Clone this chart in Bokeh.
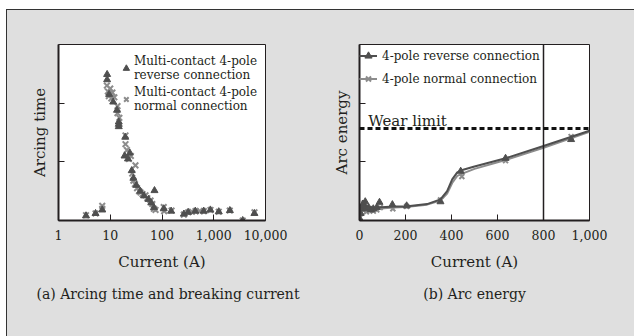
from bokeh.plotting import figure
from bokeh.models import FixedTicker, Span, Label, Legend, LegendItem, Range1d, NumeralTickFormatter, Title
from bokeh.layouts import row
from bokeh.embed import file_html
from bokeh.resources import INLINE

# ---- data: (a) arcing time vs breaking current (log x) ----
rev_a_x = [3.4, 5.2, 7.0, 8.7, 8.7, 9.5, 11.4, 13.5, 14.6, 14.6, 14.6, 19.5, 18.9, 23.9, 22, 26, 28, 32, 38, 45,
           55, 62, 71.6, 70, 108, 150, 265, 320, 440, 640, 860, 1250, 2050, 3630, 6100]
rev_a_y = [0.08, 0.12, 0.18, 2.49, 2.40, 2.15, 2.02, 1.88, 1.68, 1.64, 1.60, 1.42, 1.10, 1.15, 1.05, 0.85, 0.72, 0.6, 0.5, 0.42,
           0.36, 0.3, 0.51, 0.22, 0.2, 0.16, 0.11, 0.14, 0.16, 0.16, 0.18, 0.15, 0.17, 0.0, 0.12]
nor_a_x = [3.4, 5.2, 7.0, 7.0, 8.6, 9.0, 9.4, 10, 10.5, 11, 12, 13.8, 13.8, 15, 19.7, 19.7, 21, 23, 25, 26.6, 28, 30,
           30.7, 33, 36, 38.4, 42, 48, 52, 60, 65, 69.6, 75, 108, 110, 153, 264, 321, 380, 444, 540, 643, 865, 1250,
           2040, 3630, 6120]
nor_a_y = [0.09, 0.12, 0.2, 0.25, 2.3, 2.2, 2.12, 2.25, 2.08, 2.18, 2.1, 1.95, 1.83, 1.75, 1.45, 1.3, 1.2, 1.05, 1.1, 0.8,
           0.68, 0.62, 0.94, 0.55, 0.5, 0.48, 0.45, 0.43, 0.38, 0.34, 0.28, 0.2, 0.18, 0.23, 0.16, 0.17, 0.1, 0.14,
           0.15, 0.16, 0.16, 0.16, 0.18, 0.15, 0.17, 0.0, 0.14]
a_ticks = [1, 10, 100, 1000, 10000]

# ---- data: (b) arc energy vs current ----
rev_b_x = [2, 5, 10, 15, 20, 25, 30, 40, 50, 60, 75, 87, 143, 205, 352, 440, 635, 920]
rev_b_y = [0.02, 0.12, 0.2, 0.28, 0.25, 0.32, 0.2, 0.22, 0.18, 0.2, 0.22, 0.31, 0.27, 0.25, 0.32, 0.84, 1.06, 1.38]
nor_b_x = [2, 5, 10, 15, 20, 25, 30, 40, 50, 60, 75, 90, 145, 205, 352, 445, 635, 920]
nor_b_y = [0.05, 0.15, 0.22, 0.18, 0.3, 0.2, 0.15, 0.18, 0.2, 0.16, 0.18, 0.22, 0.2, 0.24, 0.35, 0.75, 1.02, 1.43]
rev_curve_x = [0, 9, 30, 77, 150, 200, 294, 352, 381, 403, 425, 447, 500, 635, 800, 1000]
rev_curve_y = [0.0, 0.2, 0.21, 0.22, 0.24, 0.24, 0.28, 0.36, 0.5, 0.7, 0.82, 0.86, 0.92, 1.06, 1.27, 1.53]
nor_curve_x = [0, 9, 30, 77, 150, 200, 294, 352, 381, 403, 425, 447, 500, 635, 800, 1000]
nor_curve_y = [0.0, 0.17, 0.19, 0.2, 0.22, 0.23, 0.27, 0.34, 0.46, 0.64, 0.76, 0.8, 0.88, 1.03, 1.24, 1.51]
b_ticks = [0, 200, 400, 600, 800, 1000]
wear_limit = 1.57
marker_line = 800
y_ticks = [1, 2]

FONT = "DejaVu Serif"
INK = "#231f20"
BG = "#dfdfdf"
DARK = "#4f4f4f"
LIGHT = "#8c8c8c"


def style(p, xticks):
    p.background_fill_color = "white"
    p.border_fill_color = BG
    p.outline_line_color = INK
    p.outline_line_width = 1
    p.xgrid.visible = False
    p.ygrid.visible = False
    for ax in (p.xaxis[0], p.yaxis[0]):
        ax.axis_line_width = 2
        ax.axis_line_color = INK
        ax.major_tick_in = 6
        ax.major_tick_out = 0
        ax.major_tick_line_color = INK
        ax.major_tick_line_width = 1
        ax.minor_tick_line_color = None
        ax.axis_label_text_font = FONT
        ax.axis_label_text_font_size = "15px"
        ax.axis_label_text_font_style = "normal"
        ax.axis_label_text_color = INK
        ax.major_label_text_font = FONT
        ax.major_label_text_font_size = "12.5px"
        ax.major_label_text_color = INK
    p.xaxis[0].ticker = FixedTicker(ticks=xticks)
    p.xaxis[0].formatter = NumeralTickFormatter(format="0,0")
    p.xaxis[0].major_label_standoff = 9
    p.xaxis[0].axis_label_standoff = 10
    p.yaxis[0].ticker = FixedTicker(ticks=y_ticks)
    p.yaxis[0].major_label_overrides = {1: "", 2: ""}
    p.yaxis[0].major_label_text_color = None
    p.yaxis[0].major_label_standoff = 0
    p.yaxis[0].axis_label_standoff = 10


def caption(p, text, align, offset):
    p.add_layout(Title(text=text, align=align, offset=offset, standoff=21,
                       text_font=FONT, text_font_size="14px", text_font_style="normal",
                       text_color=INK), "below")


# ---------- (a) ----------
p1 = figure(x_axis_type="log", frame_width=207, frame_height=176,
            min_border_left=51, min_border_right=53, min_border_top=34, min_border_bottom=116,
            x_range=Range1d(1, 10000), y_range=Range1d(0, 3),
            output_backend="svg", toolbar_location=None,
            x_axis_label="Current (A)", y_axis_label="Arcing time")
style(p1, a_ticks)
r_nor_a = p1.scatter(nor_a_x, nor_a_y, marker="x", size=8, line_color=LIGHT, line_width=2)
r_rev_a = p1.scatter(rev_a_x, rev_a_y, marker="triangle", size=7, fill_color=DARK, line_color=DARK)
leg1 = Legend(items=[LegendItem(label="Multi-contact 4-pole\nreverse connection", renderers=[r_rev_a]),
                     LegendItem(label="Multi-contact 4-pole\nnormal connection", renderers=[r_nor_a])],
              location="top_right", margin=8, padding=8, spacing=0,
              glyph_width=16, glyph_height=16, label_height=31, label_standoff=0,
              label_text_font=FONT, label_text_font_size="12px", label_text_color=INK,
              border_line_color=None, background_fill_alpha=0)
p1.add_layout(leg1)
caption(p1, "(a) Arcing time and breaking current", "left", -22)

# ---------- (b) ----------
p2 = figure(frame_width=230, frame_height=176,
            min_border_left=41, min_border_right=45, min_border_top=34, min_border_bottom=116,
            x_range=Range1d(0, 1000), y_range=Range1d(0, 3),
            output_backend="svg", toolbar_location=None,
            x_axis_label="Current (A)", y_axis_label="Arc energy")
style(p2, b_ticks)
p2.yaxis[0].axis_label_standoff = 9
p2.add_layout(Span(location=marker_line, dimension="height", line_color=INK, line_width=1.5))
p2.add_layout(Span(location=wear_limit, dimension="width", line_color="#111111", line_width=3,
                   line_dash="5 3"))
p2.add_layout(Label(x=38, y=1.70, text="Wear limit", text_font=FONT, text_font_size="15px",
                    text_color=INK, text_baseline="alphabetic"))
l_nor = p2.line(nor_curve_x, nor_curve_y, line_color=LIGHT, line_width=2)
s_nor = p2.scatter(nor_b_x, nor_b_y, marker="x", size=7, line_color=LIGHT, line_width=2)
l_rev = p2.line(rev_curve_x, rev_curve_y, line_color=DARK, line_width=2)
s_rev = p2.scatter(rev_b_x, rev_b_y, marker="triangle", size=7, fill_color=DARK, line_color=DARK)
leg2 = Legend(items=[LegendItem(label="4-pole reverse connection", renderers=[l_rev, s_rev]),
                     LegendItem(label="4-pole normal connection", renderers=[l_nor, s_nor])],
              location="top_left", margin=0, padding=10, spacing=0,
              glyph_width=18, glyph_height=23, label_height=23, label_standoff=5,
              label_text_font=FONT, label_text_font_size="12px", label_text_color=INK,
              border_line_color=None, background_fill_alpha=0)
p2.add_layout(leg2)
caption(p2, "(b) Arc energy", "center", 0)

layout = row(p1, p2, styles={
    "background-color": BG,
    "border-left": "1px solid #333333",
    "border-top": "1px solid #333333",
    "margin-left": "6px",
    "margin-top": "9px",
})

open("out.html", "w").write(file_html(layout, INLINE))
